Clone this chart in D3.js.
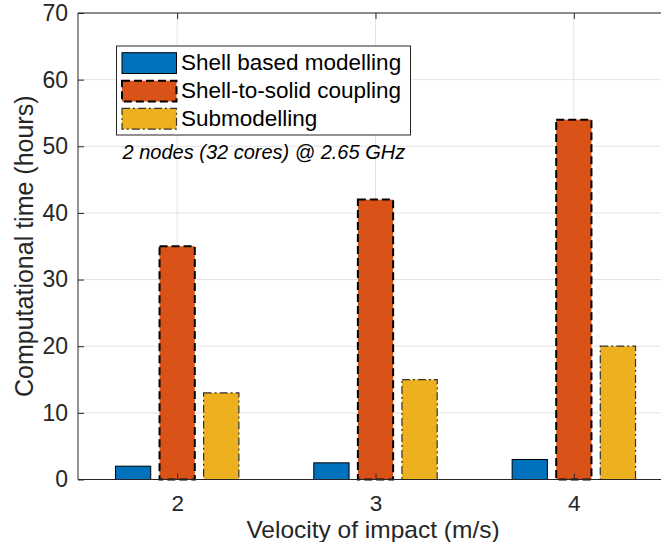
<!DOCTYPE html>
<html>
<head>
<meta charset="utf-8">
<script src="https://cdn.jsdelivr.net/npm/d3@7"></script>
<style>
  html, body { margin: 0; padding: 0; background: #fff; }
  svg { display: block; font-family: "Liberation Sans", Arial, Helvetica, sans-serif; }
</style>
</head>
<body>
<svg id="chart" width="661" height="542"></svg>
<script>
// Impact velocities (m/s) on the x axis
const velocities = [2, 3, 4];
// Computational time (hours) per modelling approach
const shellBased = [2, 2.5, 3];
const shellToSolid = [35, 42, 54];
const submodelling = [13, 15, 20];
const seriesNames = ["Shell based modelling", "Shell-to-solid coupling", "Submodelling"];
const yTicks = [0, 10, 20, 30, 40, 50, 60, 70];
const xTicks = [2, 3, 4];
const annotation = "2 nodes (32 cores) @ 2.65 GHz";

const series = [
  { name: seriesNames[0], values: shellBased, fill: "#0072BD", stroke: "#000", width: 1, dash: null },
  { name: seriesNames[1], values: shellToSolid, fill: "#D95319", stroke: "#000", width: 2, dash: "8,4" },
  { name: seriesNames[2], values: submodelling, fill: "#EDB120", stroke: "#333", width: 1.2, dash: "8,3,2,3" }
];

const svg = d3.select("#chart");
const axisColor = "#262626";
const gridColor = "#e3e3e3";

const x = d3.scaleLinear().domain([1.5, 4.5]).range([78, 673]);
const y = d3.scaleLinear().domain([0, 70]).range([479.5, 13]);

// grouped bar geometry (in data units)
const nSeries = series.length;
const groupWidth = Math.min(0.8, nSeries / (nSeries + 1.5));
const step = groupWidth / nSeries;
const barW = step * 0.8;

// grid
const grid = svg.append("g");
grid.selectAll("line.gy").data(yTicks.slice(1)).join("line")
  .attr("x1", x(1.5)).attr("x2", x(4.5))
  .attr("y1", d => y(d)).attr("y2", d => y(d))
  .attr("stroke", gridColor).attr("stroke-width", 1);
grid.selectAll("line.gx").data(xTicks).join("line")
  .attr("x1", d => x(d)).attr("x2", d => x(d))
  .attr("y1", y(0)).attr("y2", y(70))
  .attr("stroke", gridColor).attr("stroke-width", 1);

// bars
series.forEach((s, i) => {
  const off = (i - (nSeries - 1) / 2) * step;
  svg.append("g").selectAll("rect").data(s.values).join("rect")
    .attr("x", (d, j) => x(velocities[j] + off - barW / 2))
    .attr("width", x(barW) - x(0))
    .attr("y", d => y(d))
    .attr("height", d => y(0) - y(d))
    .attr("fill", s.fill)
    .attr("stroke", s.stroke)
    .attr("stroke-width", s.width)
    .attr("stroke-dasharray", s.dash);
});

// axes frame (box)
const ax = svg.append("g").attr("stroke", axisColor).attr("stroke-width", 1).attr("fill", "none");
ax.append("line").attr("x1", x(1.5)).attr("x2", x(4.5)).attr("y1", y(0)).attr("y2", y(0));
ax.append("line").attr("x1", x(1.5)).attr("x2", x(4.5)).attr("y1", y(70)).attr("y2", y(70));
ax.append("line").attr("x1", x(1.5)).attr("x2", x(1.5)).attr("y1", y(0)).attr("y2", y(70));
ax.append("line").attr("x1", x(4.5)).attr("x2", x(4.5)).attr("y1", y(0)).attr("y2", y(70));

// y axis (ticks inside)
const yAxis = d3.axisLeft(y).tickValues(yTicks).tickSize(-6).tickPadding(10).tickFormat(d3.format("d"));
const gy = svg.append("g").attr("transform", `translate(${x(1.5)},0)`).call(yAxis);
gy.select(".domain").remove();
gy.selectAll("line").attr("stroke", axisColor);
gy.selectAll("text").attr("fill", axisColor).style("font-size", "23px")
  .style("font-family", '"Liberation Sans", Arial, sans-serif');

// x axis (ticks inside, bottom and top); labels placed by baseline
const xAxis = d3.axisBottom(x).tickValues(xTicks).tickSize(-6).tickFormat(d3.format("d"));
const gx = svg.append("g").attr("transform", `translate(0,${y(0)})`).call(xAxis);
gx.select(".domain").remove();
gx.selectAll("line").attr("stroke", axisColor);
gx.selectAll("text").attr("fill", axisColor).attr("y", 31.5).attr("dy", null)
  .style("font-size", "22.5px")
  .style("font-family", '"Liberation Sans", Arial, sans-serif');
const gxt = svg.append("g").attr("transform", `translate(0,${y(70)})`)
  .call(d3.axisTop(x).tickValues(xTicks).tickSize(-6).tickFormat(""));
gxt.select(".domain").remove();
gxt.selectAll("line").attr("stroke", axisColor);

// axis labels
svg.append("text")
  .attr("x", 373).attr("y", 537.5)
  .attr("text-anchor", "middle").attr("fill", axisColor)
  .style("font-size", "24.5px")
  .text("Velocity of impact (m/s)");
svg.append("text")
  .attr("transform", `translate(33,${(y(0) + y(70)) / 2}) rotate(-90)`)
  .attr("text-anchor", "middle").attr("fill", axisColor)
  .style("font-size", "25px")
  .text("Computational time (hours)");

// legend
const lg = svg.append("g");
lg.append("rect").attr("x", 116.5).attr("y", 46).attr("width", 294).attr("height", 89)
  .attr("fill", "#fff").attr("stroke", axisColor).attr("stroke-width", 1);
const rowY = [52.7, 80.7, 108.3];
series.forEach((s, i) => {
  lg.append("rect").attr("x", 122).attr("y", rowY[i]).attr("width", 54.5).attr("height", 20.8)
    .attr("fill", s.fill).attr("stroke", s.stroke)
    .attr("stroke-width", s.width).attr("stroke-dasharray", s.dash);
  lg.append("text").attr("x", 181).attr("y", rowY[i] + 17.5)
    .attr("fill", "#000").style("font-size", "22.5px").text(s.name);
});

// annotation
svg.append("text").attr("x", 122.5).attr("y", 159)
  .attr("fill", "#000").style("font-size", "20px").style("font-style", "italic")
  .text(annotation);
</script>
</body>
</html>
